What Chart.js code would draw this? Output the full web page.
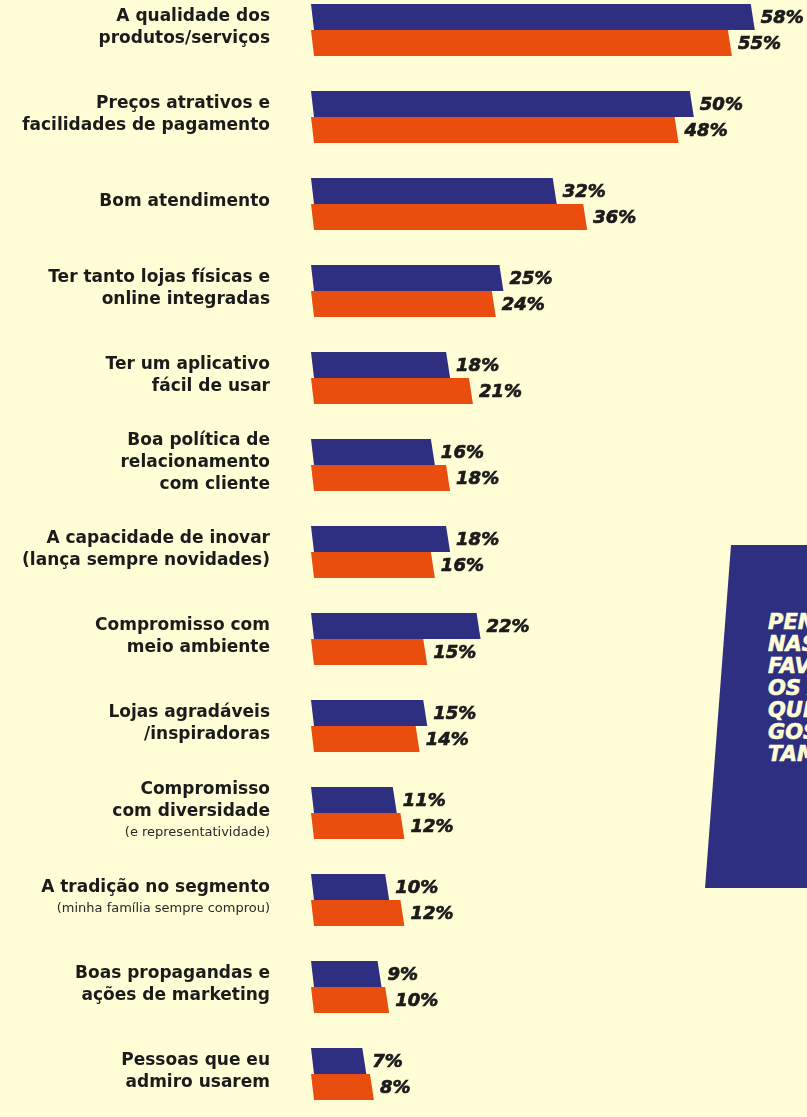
<!DOCTYPE html>
<html lang="pt-BR">
<head>
    <meta charset="UTF-8">
    <title>Atributos das marcas favoritas</title>
    <script src="https://cdn.jsdelivr.net/npm/chart.js"></script>
    <style>
        html, body {
            margin: 0;
            padding: 0;
            width: 807px;
            height: 1117px;
            overflow: hidden;
            background-color: #fffdd5; /* pale yellow page */
        }
        .chart-box {
            position: absolute;
            left: 0;
            top: -20px;
            width: 807px;
            height: 1158px;
        }
        /* navy side panel, left edge leaning */
        .side-panel {
            position: absolute;
            left: 705px;
            top: 545px;
            width: 110px;
            height: 343px;
            background-color: #2e2f81;
            clip-path: polygon(26px 0, 100% 0, 100% 100%, 0 100%);
            overflow: hidden;
        }
        .side-panel p {
            position: absolute;
            left: 63px;
            top: 66px;
            margin: 0;
            font-family: "DejaVu Sans", sans-serif;
            font-weight: bold;
            font-style: italic;
            font-size: 21px;
            line-height: 22px;
            color: #fffdd5;
            -webkit-text-stroke: 0.6px #fffdd5;
            white-space: nowrap;
        }
    </style>
</head>
<body>
    <div class="chart-box">
        <canvas id="attrChart"></canvas>
    </div>
    <div class="side-panel">
        <p>PENSANDO<br>NAS MARCAS<br>FAVORITAS,<br>OS ATRIBUTOS<br>QUE MAIS<br>GOSTAM<br>TAMBÉM</p>
    </div>

    <script>
        const categories = [
            ['A qualidade dos', 'produtos/serviços'],
            ['Preços atrativos e', 'facilidades de pagamento'],
            ['Bom atendimento'],
            ['Ter tanto lojas físicas e', 'online integradas'],
            ['Ter um aplicativo', 'fácil de usar'],
            ['Boa política de', 'relacionamento', 'com cliente'],
            ['A capacidade de inovar', '(lança sempre novidades)'],
            ['Compromisso com', 'meio ambiente'],
            ['Lojas agradáveis', '/inspiradoras'],
            ['Compromisso', 'com diversidade'],
            ['A tradição no segmento'],
            ['Boas propagandas e', 'ações de marketing'],
            ['Pessoas que eu', 'admiro usarem']
        ];
        const notes = ['', '', '', '', '', '', '', '', '',
            '(e representatividade)', '(minha família sempre comprou)', '', ''];
        const navyValues = [58, 50, 32, 25, 18, 16, 18, 22, 15, 11, 10, 9, 7];
        const orangeValues = [55, 48, 36, 24, 21, 18, 16, 15, 14, 12, 12, 10, 8];

        const NAVY = '#2e2f81';
        const ORANGE = '#e94e0f';
        const INK = '#1c1a1b';
        const FONT = '"DejaVu Sans", sans-serif';

        // bars are drawn as slightly leaning parallelograms
        const slantedBars = {
            id: 'slantedBars',
            beforeDatasetsDraw(chart) {
                const ctx = chart.ctx;
                chart.data.datasets.forEach((ds, di) => {
                    const meta = chart.getDatasetMeta(di);
                    ctx.fillStyle = ds.backgroundColor;
                    meta.data.forEach(bar => {
                        const top = bar.y - bar.height / 2;
                        const bottom = bar.y + bar.height / 2;
                        ctx.beginPath();
                        ctx.moveTo(bar.base, top);
                        ctx.lineTo(bar.x - 2, top);
                        ctx.lineTo(bar.x + 2, bottom);
                        ctx.lineTo(bar.base + 3, bottom);
                        ctx.closePath();
                        ctx.fill();
                    });
                });
                return false;
            },
            afterDraw(chart) {
                const ctx = chart.ctx;
                const yScale = chart.scales.y;

                // value labels at the end of each bar (stroked a little to look heavier)
                ctx.save();
                ctx.fillStyle = INK;
                ctx.strokeStyle = INK;
                ctx.lineWidth = 0.7;
                ctx.font = 'italic bold 18px ' + FONT;
                ctx.textAlign = 'left';
                ctx.textBaseline = 'middle';
                chart.data.datasets.forEach((ds, di) => {
                    chart.getDatasetMeta(di).data.forEach((bar, i) => {
                        const txt = ds.data[i] + '%';
                        ctx.fillText(txt, bar.x + 8, bar.y + 1);
                        ctx.strokeText(txt, bar.x + 8, bar.y + 1);
                    });
                });
                ctx.restore();

                // category labels, right aligned left of the bars
                ctx.save();
                ctx.textAlign = 'right';
                ctx.textBaseline = 'middle';
                chart.data.labels.forEach((lines, i) => {
                    const cy = yScale.getPixelForValue(i);
                    const note = notes[i];
                    const blockH = (lines.length - 1) * 22 + (note ? 21 : 0);
                    let y = cy - blockH / 2 - 2;
                    ctx.fillStyle = INK;
                    ctx.font = 'bold 17px ' + FONT;
                    lines.forEach(line => {
                        ctx.fillText(line, 270, y);
                        y += 22;
                    });
                    if (note) {
                        ctx.font = '13px ' + FONT;
                        ctx.fillStyle = '#2a2829';
                        ctx.fillText(note, 270, y - 1);
                    }
                });
                ctx.restore();
            }
        };

        function renderChart() {
            const ctx = document.getElementById('attrChart').getContext('2d');
            new Chart(ctx, {
                type: 'bar',
                data: {
                    labels: categories,
                    datasets: [
                        { label: 'Azul', data: navyValues, backgroundColor: NAVY, barThickness: 26 },
                        { label: 'Laranja', data: orangeValues, backgroundColor: ORANGE, barThickness: 26 }
                    ]
                },
                options: {
                    indexAxis: 'y',
                    responsive: true,
                    maintainAspectRatio: false,
                    animation: false,
                    layout: {
                        padding: { left: 311, right: 39, top: 6.5, bottom: 20.5 }
                    },
                    scales: {
                        x: { display: false, min: 0, max: 60 },
                        y: { display: false }
                    },
                    plugins: {
                        legend: { display: false },
                        tooltip: { enabled: false }
                    }
                },
                plugins: [slantedBars]
            });
        }

        window.onload = renderChart;
    </script>
</body>
</html>
